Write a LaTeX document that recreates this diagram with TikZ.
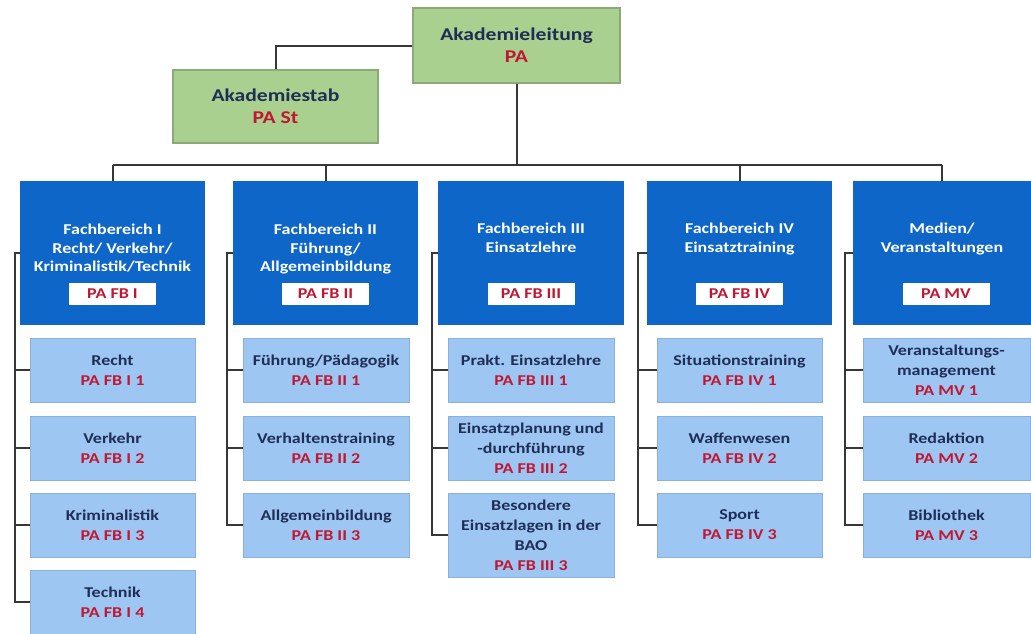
\documentclass[tikz,border=0pt]{standalone}
\usepackage{fontspec}
\setmainfont{Carlito}[FakeStretch=1.2]
\usetikzlibrary{calc}
\definecolor{leadgreen}{RGB}{169,208,142}
\definecolor{leadedge}{RGB}{140,170,120}
\definecolor{fbblue}{RGB}{14,102,201}
\definecolor{subblue}{RGB}{157,198,243}
\definecolor{subedge}{RGB}{140,176,220}
\definecolor{navy}{RGB}{31,46,86}
\definecolor{codered}{RGB}{192,24,50}
\definecolor{linegrey}{RGB}{55,55,55}
\tikzset{
  topbox/.style={fill=leadgreen,draw=leadedge,line width=1.2pt,minimum width=#1,inner sep=0pt,align=center,font=\fontsize{18}{22}\selectfont\bfseries,text=navy},
  fbbox/.style={fill=fbblue,draw=none,minimum width=#1,minimum height=144,inner sep=0pt},
  fbtitle/.style={anchor=north,align=center,inner sep=0pt,text=white,font=\fontsize{15}{18.5}\selectfont\bfseries},
  fbcode/.style={fill=white,minimum width=87,minimum height=22,inner sep=0pt,text=codered,font=\fontsize{15}{16}\selectfont\bfseries},
  subbox/.style={fill=subblue,draw=subedge,line width=0.6pt,minimum width=#1,minimum height=64,inner sep=0pt,align=center,text=navy,font=\fontsize{15}{20}\selectfont\bfseries},
  conn/.style={draw=linegrey,line width=2pt},
}
\newcommand{\cd}[1]{\textcolor{codered}{#1}}
\begin{document}
\begin{tikzpicture}[x=1pt,y=-1pt]
\useasboundingbox (0,0) rectangle (1031,633);
% top
\node[topbox=207,minimum height=75] (lead) at (516.5,45.5) {Akademieleitung\\\cd{PA}};
\node[topbox=205,minimum height=73] (stab) at (275.5,106.5) {Akademiestab\\\cd{PA St}};
% Fachbereiche
\node[fbbox=185] (fb1) at (112.5,253) {};
\node[fbbox=185] (fb2) at (325.5,253) {};
\node[fbbox=186] (fb3) at (531,253) {};
\node[fbbox=185] (fb4) at (739.5,253) {};
\node[fbbox=178] (fb5) at (942,253) {};
\node[fbtitle] (t1) at (112.5,224) {Fachbereich I\\Recht/ Verkehr/\\Kriminalistik/Technik};
\node[fbtitle] (t2) at (325.5,224) {Fachbereich II\\Führung/\\Allgemeinbildung};
\node[fbtitle] (t3) at (531,223) {Fachbereich III\\Einsatzlehre};
\node[fbtitle] (t4) at (739.5,223) {Fachbereich IV\\Einsatztraining};
\node[fbtitle] (t5) at (942,223) {Medien/\\Veranstaltungen};
\node[fbcode] (k1) at (112.5,294) {PA FB I};
\node[fbcode] (k2) at (325.5,294) {PA FB II};
\node[fbcode] (k3) at (531,294) {PA FB III};
\node[fbcode] (k4) at (739.5,294) {PA FB IV};
\node[fbcode] (k5) at (946,294) {PA MV};
% sub units col 1
\node[subbox=165] (s11) at (112.5,370) {Recht\\\cd{PA FB I 1}};
\node[subbox=165] (s12) at (112.5,448) {Verkehr\\\cd{PA FB I 2}};
\node[subbox=165] (s13) at (112.5,525) {Kriminalistik\\\cd{PA FB I 3}};
\node[subbox=165] (s14) at (112.5,602) {Technik\\\cd{PA FB I 4}};
% col 2
\node[subbox=166] (s21) at (326,370) {Führung/Pädagogik\\\cd{PA FB II 1}};
\node[subbox=166] (s22) at (326,448) {Verhaltenstraining\\\cd{PA FB II 2}};
\node[subbox=166] (s23) at (326,525) {Allgemeinbildung\\\cd{PA FB II 3}};
% col 3
\node[subbox=166] (s31) at (531,370) {Prakt. Einsatzlehre\\\cd{PA FB III 1}};
\node[subbox=166] (s32) at (531,448) {Einsatzplanung und\\-durchführung\\\cd{PA FB III 2}};
\node[subbox=166,minimum height=84] (s33) at (531,535) {Besondere\\Einsatzlagen in der\\BAO\\\cd{PA FB III 3}};
% col 4
\node[subbox=165] (s41) at (739.5,370) {Situationstraining\\\cd{PA FB IV 1}};
\node[subbox=165] (s42) at (739.5,448) {Waffenwesen\\\cd{PA FB IV 2}};
\node[subbox=165] (s43) at (739.5,525) {Sport\\\cd{PA FB IV 3}};
% col 5
\node[subbox=167] (s51) at (946.5,370) {Veranstaltungs-\\management\\\cd{PA MV 1}};
\node[subbox=167] (s52) at (946.5,448) {Redaktion\\\cd{PA MV 2}};
\node[subbox=167] (s53) at (946.5,525) {Bibliothek\\\cd{PA MV 3}};
% rails
\coordinate (r1) at (15,253);
\coordinate (r2) at (227,253);
\coordinate (r3) at (432,253);
\coordinate (r4) at (638,253);
\coordinate (r5) at (845,253);
\coordinate (bus) at (0,165);
% top connectors
\draw[conn] (lead.west) -| (stab.north);
\draw[conn] (lead.south) -- (lead.south |- bus);
\draw[conn] (fb1.north |- bus) -- (fb5.north |- bus);
\foreach \f in {fb1,fb2,fb4,fb5} \draw[conn] (\f.north |- bus) -- (\f.north);
% column connectors
\draw[conn] (fb1.west) -- (r1) |- (s14.west);
\foreach \s in {s11,s12,s13} \draw[conn] (\s.west -| r1) -- (\s.west);
\draw[conn] (fb2.west) -- (r2) |- (s23.west);
\foreach \s in {s21,s22} \draw[conn] (\s.west -| r2) -- (\s.west);
\draw[conn] (fb3.west) -- (r3) |- (s33.west);
\foreach \s in {s31,s32} \draw[conn] (\s.west -| r3) -- (\s.west);
\draw[conn] (fb4.west) -- (r4) |- (s43.west);
\foreach \s in {s41,s42} \draw[conn] (\s.west -| r4) -- (\s.west);
\draw[conn] (fb5.west) -- (r5) |- (s53.west);
\foreach \s in {s51,s52} \draw[conn] (\s.west -| r5) -- (\s.west);
\end{tikzpicture}
\end{document}
